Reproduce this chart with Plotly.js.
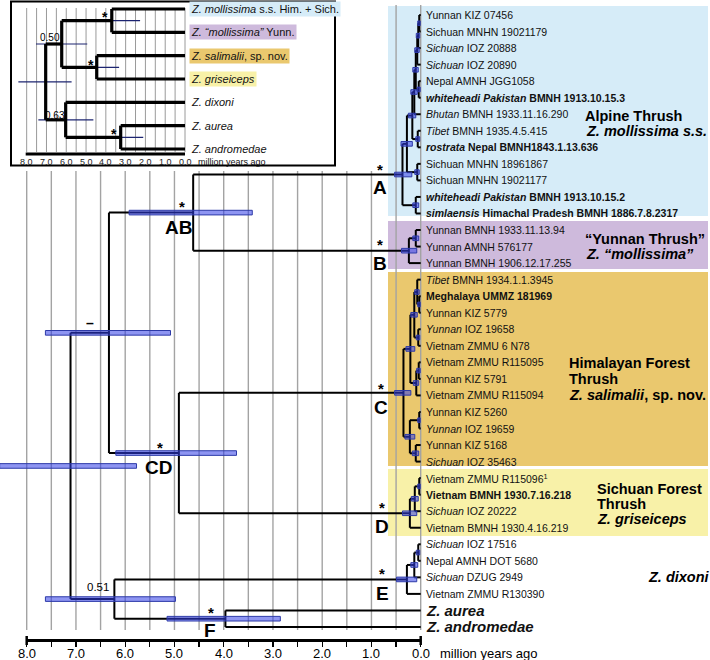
<!DOCTYPE html>
<html><head><meta charset="utf-8">
<script src="https://cdn.plot.ly/plotly-3.0.1.min.js"></script>
<style>body{margin:0;padding:0;background:#fff}#chart{width:710px;height:660px}</style>
</head><body><div id="chart"></div>
<script>
// ================= DATA =================
// main tree tips (row order top->bottom)
const tipLabels = [
 "Yunnan KIZ 07456","Sichuan MNHN 19021179","<i>Sichuan</i> IOZ 20888","<i>Sichuan</i> IOZ 20890",
 "Nepal AMNH JGG1058","<b><i>whiteheadi Pakistan</i> BMNH 1913.10.15.3</b>","<i>Bhutan</i> BMNH 1933.11.16.290",
 "<i>Tibet</i> BMNH 1935.4.5.415","<b><i>rostrata</i> Nepal BMNH1843.1.13.636</b>","Sichuan MNHN 18961867",
 "Sichuan MNHN 19021177","<b><i>whiteheadi Pakistan</i> BMNH 1913.10.15.2</b>",
 "<b><i>simlaensis</i> Himachal Pradesh BMNH 1886.7.8.2317</b>",
 "Yunnan BMNH 1933.11.13.94","Yunnan AMNH 576177","Yunnan BMNH 1906.12.17.255",
 "<i>Tibet</i> BMNH 1934.1.1.3945","<b>Meghalaya UMMZ 181969</b>","Yunnan KIZ 5779","<i>Yunnan</i> IOZ 19658",
 "Vietnam ZMMU 6 N78","Vietnam ZMMU R115095","Yunnan KIZ 5791","Vietnam ZMMU R115094","Yunnan KIZ 5260",
 "<i>Yunnan</i> IOZ 19659","Yunnan KIZ 5168","<i>Sichuan</i> IOZ 35463",
 "Vietnam ZMMU R115096<sup>1</sup>","<b>Vietnam BMNH 1930.7.16.218</b>","<i>Sichuan</i> IOZ 20222",
 "Vietnam BMNH 1930.4.16.219","<i>Sichuan</i> IOZ 17516","Nepal AMNH DOT 5680","<i>Sichuan</i> DZUG 2949",
 "Vietnam ZMMU R130390","<b><i>Z. aurea</i></b>","<b><i>Z. andromedae</i></b>"
];
// internal nodes: name, left child, right child, age (Ma), 95% HPD (old, young)
const nodeNames = ["c1_2","c1_3","c1_4","c5_6","c1_6","c1_7","c8_9","A1a","A1b","A1","A2","A",
 "c14_15","B","c18_19","c17_19","c20_21","C1a","c22_23","C1b","C1","c25_26","c27_28","C2","C",
 "c29_30","D1","D","c33_34","E1","E","F","AB","CD","ABCD","EF","root"];
const nodeLeft  = ["t1","c1_2","c1_3","t5","c1_4","c1_6","t8","c1_7","t10","A1a","t12","A1",
 "t14","c14_15","t18","t17","t20","c17_19","t22","c22_23","C1a","t25","t27","c25_26","C1",
 "t29","c29_30","D1","t33","c33_34","E1","t37","A","C","AB","E","ABCD"];
const nodeRight = ["t2","t3","t4","t6","c5_6","t7","t9","c8_9","t11","A1b","t13","A2",
 "t15","t16","t19","c18_19","t21","c20_21","t23","t24","C1b","t26","t28","c27_28","C2",
 "t30","t31","t32","t34","t35","t36","t38","B","D","CD","F","EF"];
const nodeAges  = [0.03,0.05,0.07,0.04,0.10,0.13,0.06,0.17,0.07,0.28,0.10,0.37,
 0.10,0.24,0.03,0.07,0.05,0.13,0.04,0.09,0.21,0.03,0.10,0.22,0.35,
 0.03,0.12,0.22,0.05,0.13,0.28,3.965,4.62,4.91,6.33,6.22,7.11];
const hpdOld    = [0.06,0.09,0.12,0.07,0.16,0.20,0.10,0.25,0.12,0.40,0.16,0.53,
 0.16,0.39,0.06,0.12,0.09,0.20,0.08,0.15,0.30,0.06,0.17,0.32,0.53,
 0.06,0.19,0.37,0.09,0.20,0.49,5.15,5.92,6.19,7.62,7.62,8.55];
const hpdYoung  = [0.01,0.02,0.03,0.01,0.05,0.07,0.02,0.10,0.03,0.17,0.04,0.18,
 0.04,0.08,0.01,0.03,0.02,0.07,0.01,0.04,0.12,0.01,0.04,0.12,0.20,
 0.01,0.05,0.08,0.02,0.06,0.08,2.85,3.42,3.74,5.08,4.98,5.77];

// inset species tree
const insetTips = ["<i>Z. mollissima</i> s.s. Him. + Sich.","<i>Z. “mollissima”</i> Yunn.",
 "<i>Z. salimalii</i>, sp. nov.","<i>Z. griseiceps</i>","<i>Z. dixoni</i>","<i>Z. aurea</i>","<i>Z. andromedae</i>"];
const insetTipColors = ["#d6ecf8","#cebadc","#eac86e","#f8f1a8",null,null,null];
const insetNames = ["iAB","iCD","iABCD","iF","iEF","iroot"];
const insetLeft  = ["t1","t3","iAB","t6","t5","iABCD"];
const insetRight = ["t2","t4","iCD","t7","iF","iEF"];
const insetAges  = [3.70,4.46,6.23,3.25,6.03,7.04];
const insetHpdOld   = [5.2,5.6,7.53,4.3,7.41,8.42];
const insetHpdYoung = [2.27,3.33,4.94,2.11,4.63,5.73];

// axis ticks
const gridVals = [8,7.5,7,6.5,6,5.5,5,4.5,4,3.5,3,2.5,2,1.5,1,0.5,0];
const tickLabelVals = [8,7,6,5,4,3,2,1,0];
const tickLabelText = ["8.0","7.0","6.0","5.0","4.0","3.0","2.0","1.0","0.0"];

// ================= GEOMETRY HELPERS =================
const W=710,H=660, FONT="Liberation Sans, Arial, Helvetica, sans-serif";
const PX0=420.7, PPM=49.25, ROW1=15, ROWH=16.54;     // main scales
const IPX0=185, IPPM=19.79, IROW1=9, IROWH=23.33;     // inset scales
const ax=px=>(PX0-px)/PPM, ay=py=>1+(py-ROW1)/ROWH;
const ix=px=>(IPX0-px)/IPPM, iy=py=>1+(py-IROW1)/IROWH;
const pyP=py=>1-py/H, pxP=px=>px/W;

function buildTree(nTips,names,L,R,ages,hOld,hYoung,halfH){
  const idx={}; names.forEach((n,i)=>idx[n]=i);
  const yOf={}, ageOf={};
  for(let k=1;k<=nTips;k++){yOf['t'+k]=k; ageOf['t'+k]=0;}
  names.forEach((n,i)=>ageOf[n]=ages[i]);
  function gy(id){ if(id in yOf) return yOf[id]; const i=idx[id]; const v=(gy(L[i])+gy(R[i]))/2; yOf[id]=v; return v;}
  const lx=[],ly=[],bx=[],by=[];
  names.forEach((n,i)=>{
    const a=ages[i], yl=gy(L[i]), yr=gy(R[i]);
    lx.push(a,a,null); ly.push(yl,yr,null);
    [L[i],R[i]].forEach(c=>{ lx.push(a,ageOf[c],null); ly.push(gy(c),gy(c),null); });
    const y=gy(n);
    if(halfH){ bx.push(hOld[i],hYoung[i],hYoung[i],hOld[i],hOld[i],null);
               by.push(y-halfH,y-halfH,y+halfH,y+halfH,y-halfH,null); }
    else { bx.push(hOld[i],hYoung[i],null); by.push(y,y,null); }
  });
  return {lx,ly,bx,by,yOf};
}

const main = buildTree(tipLabels.length,nodeNames,nodeLeft,nodeRight,nodeAges,hpdOld,hpdYoung,0.14);
const ins  = buildTree(insetTips.length,insetNames,insetLeft,insetRight,insetAges,insetHpdOld,insetHpdYoung,0);

const traces=[
 {x:main.lx,y:main.ly,mode:'lines',line:{color:'#000',width:2},hoverinfo:'skip',xaxis:'x',yaxis:'y'},
 {x:main.bx,y:main.by,mode:'lines',fill:'toself',fillcolor:'rgba(50,62,232,0.55)',line:{color:'#2d3aa8',width:1},hoverinfo:'skip',xaxis:'x',yaxis:'y'},
 {x:ins.bx,y:ins.by,mode:'lines',line:{color:'#1c2470',width:1.2},hoverinfo:'skip',xaxis:'x2',yaxis:'y2'},
 {x:ins.lx,y:ins.ly,mode:'lines',line:{color:'#000',width:3.2},hoverinfo:'skip',xaxis:'x2',yaxis:'y2'}
];

// ================= SHAPES =================
const shapes=[];
const boxes=[[6,216,'#d6ecf8'],[221,269,'#cebadc'],[272,466,'#eac86e'],[469,536,'#f8f1a8']];
boxes.forEach(b=>shapes.push({type:'rect',xref:'paper',yref:'paper',x0:pxP(388),x1:pxP(708),y0:pyP(b[0]),y1:pyP(b[1]),fillcolor:b[2],line:{width:0},layer:'below'}));
gridVals.forEach(v=>shapes.push({type:'line',xref:'x',yref:'paper',x0:v,x1:v,y0:pyP(v<=0.5?5:171),y1:pyP(630),line:{color:'#a3a3a3',width:1.4},layer:'below'}));
// inset frame
shapes.push({type:'rect',xref:'paper',yref:'paper',x0:pxP(11),x1:pxP(335),y0:pyP(1.5),y1:pyP(165.5),fillcolor:'#fff',line:{color:'#000',width:2},layer:'below'});
gridVals.forEach(v=>shapes.push({type:'line',xref:'x2',yref:'paper',x0:v,x1:v,y0:pyP(8),y1:pyP(152),line:{color:'#9a9a9a',width:1},layer:'below'}));
// axis lines
shapes.push({type:'line',xref:'x',yref:'paper',x0:8,x1:0,y0:pyP(640.5),y1:pyP(640.5),line:{color:'#000',width:3}});
[8,0].forEach(v=>shapes.push({type:'line',xref:'x',yref:'paper',x0:v,x1:v,y0:pyP(636),y1:pyP(645),line:{color:'#000',width:2.5}}));
shapes.push({type:'line',xref:'x2',yref:'paper',x0:8.05,x1:0,y0:pyP(154),y1:pyP(154),line:{color:'#000',width:3}});

// ================= ANNOTATIONS =================
const ann=[];
const A=(o)=>ann.push(Object.assign({showarrow:false,xref:'x',yref:'y',yanchor:'middle'},o));
tipLabels.forEach((t,i)=>A({x:0,y:i+1,text:t,xanchor:'left',xshift:3.5,font:{size:i>=36?15:10.5,color:'#111',family:FONT}}));
// group labels
const G=(px,py,t,sz)=>A({x:ax(px),y:ay(py),text:t,xanchor:'left',font:{size:sz||14.5,color:'#000',family:FONT}});
G(583,116,"<b>Alpine Thrush</b>"); G(584,131,"<b><i>Z. mollissima s.s.</i></b>");
G(583,239,"<b>“Yunnan Thrush”</b>"); G(584,254,"<b><i>Z. “mollissima”</i></b>");
G(567,363,"<b>Himalayan Forest</b>"); G(567,379,"<b>Thrush</b>"); G(567,395,"<b><i>Z. salimalii</i>, sp. nov.</b>");
G(595,489,"<b>Sichuan Forest</b>"); G(595,504,"<b>Thrush</b>"); G(595,519,"<b><i>Z. griseiceps</i></b>");
G(646,577,"<b><i>Z. dixoni</i></b>");
// clade letters & support
const L_=(px,py,t)=>A({x:ax(px),y:ay(py),text:"<b>"+t+"</b>",font:{size:19,color:'#000',family:FONT}});
const S_=(px,py,t,sz)=>A({x:ax(px),y:ay(py),text:t,font:{size:sz||15,color:'#000',family:FONT}});
[["A",380,187],["B",380,263],["C",381,407],["D",382,526],["E",382,593],["AB",178,227],["CD",158,467],["F",210,630]].forEach(d=>L_(d[1],d[2],d[0]));
[[380,165],[380,240],[381,384],[382,503],[382,569],[182,202],[160,443],[211,608]].forEach(d=>S_(d[0],d[1]+4,"<b>*</b>"));
S_(90,323,"<b>–</b>",14);
S_(98,587,"0.51",11.5);
// main axis tick labels + caption
tickLabelVals.forEach((v,i)=>ann.push({showarrow:false,xref:'x',yref:'paper',x:v,y:pyP(653),xanchor:'center',yanchor:'middle',text:tickLabelText[i],font:{size:13,color:'#000',family:FONT}}));
ann.push({showarrow:false,xref:'x',yref:'paper',x:0,y:pyP(653),xanchor:'left',yanchor:'middle',xshift:17,text:"million years ago",font:{size:13,color:'#000',family:FONT}});
// inset labels
insetTips.forEach((t,i)=>{
  const o={showarrow:false,xref:'x2',yref:'y2',x:0,y:i+1,text:t,xanchor:'left',yanchor:'middle',xshift:4,font:{size:11,color:'#111',family:FONT}};
  if(insetTipColors[i]){o.bgcolor=insetTipColors[i];o.borderpad=1;}
  ann.push(o);
});
const IA=(px,py,t,sz,b)=>ann.push({showarrow:false,xref:'x2',yref:'y2',yanchor:'middle',x:ix(px),y:iy(py),text:b?"<b>"+t+"</b>":t,font:{size:sz,color:'#000',family:FONT}});
IA(105,17,"*",14,true); IA(91,65,"*",14,true); IA(114,134,"*",14,true);
IA(50,37,"0.50",10); IA(55,115,"0.63",10);
tickLabelVals.forEach((v,i)=>ann.push({showarrow:false,xref:'x2',yref:'paper',x:v,y:pyP(162),xanchor:'center',yanchor:'middle',text:tickLabelText[i],font:{size:9,color:'#222',family:FONT}}));
ann.push({showarrow:false,xref:'x2',yref:'paper',x:0,y:pyP(162),xanchor:'left',yanchor:'middle',xshift:11,text:"million years ago",font:{size:9,color:'#111',family:FONT}});

const layout={
  width:W,height:H,margin:{l:0,r:0,t:0,b:0},paper_bgcolor:'#fff',plot_bgcolor:'rgba(0,0,0,0)',showlegend:false,
  font:{family:FONT},
  xaxis:{range:[ax(0),ax(W)],anchor:'free',position:pyP(640.5),showgrid:false,zeroline:false,showline:false,
    tickmode:'array',tickvals:gridVals,showticklabels:false,ticks:'outside',ticklen:5,tickwidth:1.3,tickcolor:'#000',fixedrange:true},
  yaxis:{range:[ay(H),ay(0)],visible:false,fixedrange:true},
  xaxis2:{overlaying:'x',range:[ix(0),ix(W)],visible:false,fixedrange:true},
  yaxis2:{overlaying:'y',range:[iy(H),iy(0)],visible:false,fixedrange:true},
  shapes:shapes,annotations:ann
};
Plotly.newPlot('chart',traces,layout,{displayModeBar:false,staticPlot:true});
</script></body></html>
